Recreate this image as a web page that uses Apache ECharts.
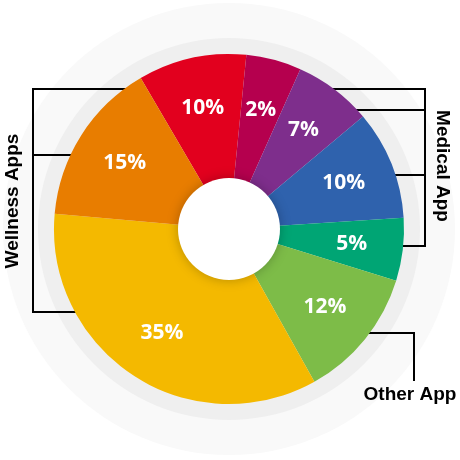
<!DOCTYPE html>
<html>
<head>
<meta charset="utf-8">
<script src="https://cdn.jsdelivr.net/npm/echarts@6/dist/echarts.min.js"></script>
<style>html,body{margin:0;padding:0;background:#fff}#c{width:460px;height:460px}</style>
</head>
<body>
<div id="c"></div>
<script>
var categories = ['Red', 'Magenta', 'Purple', 'Blue', 'Teal', 'Green', 'Yellow', 'Orange'];
var sliceShares = [10, 5.1, 7.2, 10.1, 5.8, 12.1, 34.5, 15.2];
var labelTexts = ['10%', '2%', '7%', '10%', '5%', '12%', '35%', '15%'];
var colors = ['#e2001e', '#b5004e', '#7e2e8c', '#2f62ad', '#00a574', '#7dbc48', '#f4b900', '#e87d00'];
var groupNames = ['Wellness Apps', 'Medical App', 'Other App'];

var chart = echarts.init(document.getElementById('c'), null, {renderer: 'canvas'});
var CX = 229, CY = 229;

var sliceData = categories.map(function (c, i) {
  return {name: c, value: sliceShares[i], itemStyle: {color: colors[i]}};
});
var labelData = categories.map(function (c, i) {
  return {name: labelTexts[i], value: sliceShares[i]};
});

function line(points, z) {
  return {type: 'polyline', z: z, shape: {points: points}, style: {stroke: '#000', lineWidth: 2, fill: null}, silent: true};
}

var option = {
  animation: false,
  backgroundColor: '#ffffff',
  graphic: {
    elements: [
      {type: 'circle', z: 0, shape: {cx: CX, cy: CY, r: 226}, style: {fill: '#f9f9f9'}, silent: true},
      {type: 'circle', z: 0, shape: {cx: CX, cy: CY, r: 191}, style: {fill: '#efefef'}, silent: true},
      line([[130, 89], [33, 89], [33, 312], [80, 312]], 1),
      line([[33, 155], [80, 155]], 1),
      line([[330, 89], [425, 89], [425, 246], [398, 246]], 1),
      line([[350, 110], [425, 110]], 1),
      line([[390, 175], [425, 175]], 1),
      line([[365, 333], [414, 333], [414, 381]], 1),
      {type: 'circle', z: 10, shape: {cx: CX, cy: CY, r: 51}, style: {fill: '#ffffff', shadowBlur: 12, shadowColor: 'rgba(0,0,0,0.25)'}, silent: true},
      {type: 'text', z: 10, x: 13, y: 201, rotation: Math.PI / 2,
        style: {text: groupNames[0], fill: '#000', font: 'bold 19px "Liberation Sans", Arial, sans-serif', textAlign: 'center', textVerticalAlign: 'middle'}},
      {type: 'text', z: 10, x: 442, y: 166, rotation: -Math.PI / 2,
        style: {text: groupNames[1], fill: '#000', font: 'bold 19px "Liberation Sans", Arial, sans-serif', textAlign: 'center', textVerticalAlign: 'middle'}},
      {type: 'text', z: 10, x: 410, y: 395,
        style: {text: groupNames[2], fill: '#000', font: 'bold 19px "Liberation Sans", Arial, sans-serif', textAlign: 'center', textVerticalAlign: 'middle'}}
    ]
  },
  series: [
    {
      type: 'pie',
      z: 3,
      center: [CX, CY],
      radius: [50, 175],
      startAngle: 120.3,
      clockwise: true,
      silent: true,
      label: {show: false},
      labelLine: {show: false},
      itemStyle: {borderWidth: 0},
      emphasis: {disabled: true},
      data: sliceData
    },
    {
      type: 'pie',
      z: 4,
      center: [CX, CY],
      radius: [66, 175],
      startAngle: 120.3,
      clockwise: true,
      silent: true,
      itemStyle: {color: 'transparent', borderWidth: 0},
      emphasis: {disabled: true},
      label: {
        show: true,
        position: 'inside',
        formatter: '{b}',
        color: '#ffffff',
        fontFamily: '"Open Sans", sans-serif',
        fontWeight: 'bold',
        fontSize: 21
      },
      labelLine: {show: false},
      data: labelData
    }
  ]
};
chart.setOption(option);
</script>
</body>
</html>
